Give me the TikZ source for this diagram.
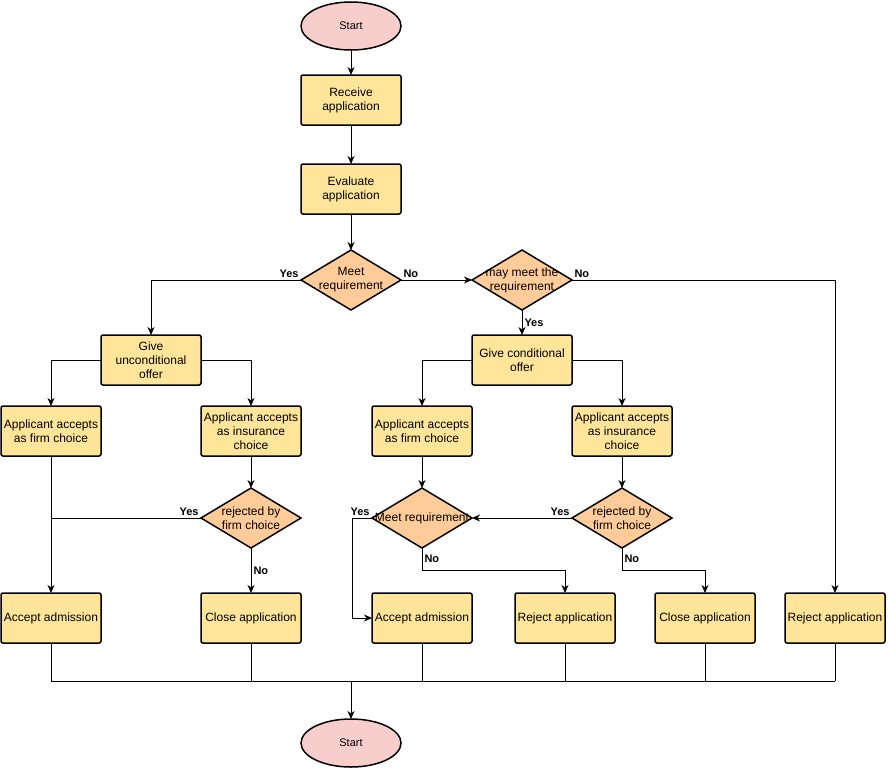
\documentclass[tikz,border=0pt]{standalone}
\usepackage{fontspec}
\setmainfont{Liberation Sans}
\usepackage{xcolor}
\usetikzlibrary{arrows.meta,positioning,shapes.geometric}
\definecolor{boxfill}{HTML}{FFE599}
\definecolor{decfill}{HTML}{FFCC99}
\definecolor{termfill}{HTML}{F8CECC}

\begin{document}
\begin{tikzpicture}[
  x=1pt, y=-1pt,
  font=\fontsize{12}{14}\selectfont,
  proc/.style={draw, line width=1.5pt, rounded corners=2pt, fill=boxfill,
      align=center, inner sep=0pt, outer sep=0pt,
      minimum width=100pt, minimum height=50pt},
  decision/.style={diamond, draw, line width=1.5pt, fill=decfill,
      align=center, inner xsep=-10pt, inner ysep=0pt, outer sep=0pt,
      shape aspect=1.6667, minimum width=100pt, minimum height=60pt},
  term/.style={ellipse, draw, line width=1.5pt, fill=termfill, inner sep=0pt,
      outer sep=0pt, minimum width=100pt, minimum height=48pt,
      font=\fontsize{11}{13}\selectfont},
  lbl/.style={font=\fontsize{11}{13}\selectfont\bfseries, inner sep=2pt},
  link/.style={line width=1pt},
  arrow/.style={-{Stealth[length=8pt,width=7pt,inset=2.5pt]}, line width=1pt}
]
\useasboundingbox (0,0) rectangle (888,771);
\node[term] (start) at (351,26) {Start};
\node[proc, below=25pt of start] (receive) {Receive\\application};
\node[proc, below=39pt of receive] (evaluate) {Evaluate\\application};
\node[decision, below=36pt of evaluate] (meet) {Meet\\requirement};
\node[decision, right=71pt of meet] (maybe) {may meet the\\requirement};
\node[proc] (uncond) at (151,360) {Give\\unconditional\\offer};
\node[proc, below=25pt of maybe] (cond) {Give conditional\\offer};
\node[proc] (lfirm) at (51,431) {Applicant accepts\\as firm choice};
\node[proc] (linsur) at (251,431) {Applicant accepts\\as insurance\\choice};
\node[proc] (rfirm) at (422,431) {Applicant accepts\\as firm choice};
\node[proc] (rinsur) at (622,431) {Applicant accepts\\as insurance\\choice};
\node[decision, below=32pt of linsur] (lrej) {rejected by\\firm choice};
\node[decision, below=32pt of rfirm] (rmeet) {Meet requirement};
\node[decision, below=32pt of rinsur] (rrej) {rejected by\\firm choice};
\node[proc] (laccept) at (51,618) {Accept admission};
\node[proc, below=45pt of lrej] (lclose) {Close application};
\node[proc, below=45pt of rmeet] (raccept) {Accept admission};
\node[proc] (rreject) at (565,618) {Reject application};
\node[proc] (rclose) at (705,618) {Close application};
\node[proc] (freject) at (835,618) {Reject application};
\node[term] (finish) at (351,743) {Start};
\coordinate (merge) at (351,681);

\draw[arrow] (start) -- (receive);
\draw[arrow] (receive) -- (evaluate);
\draw[arrow] (evaluate) -- (meet);
\draw[arrow] (meet.west) node[lbl, above left] {Yes} -| (uncond.north);
\draw[arrow] (meet.east) node[lbl, above right] {No} -- (maybe.west);
\draw[arrow] (maybe.east) node[lbl, above right] {No} -| (freject.north);
\draw[arrow] (maybe.south) -- node[lbl, right] {Yes} (cond.north);
\draw[arrow] (uncond.west) -| (lfirm.north);
\draw[arrow] (uncond.east) -| (linsur.north);
\draw[arrow] (cond.west) -| (rfirm.north);
\draw[arrow] (cond.east) -| (rinsur.north);
\draw[arrow] (lfirm.south) -- (laccept.north);
\draw[arrow] (linsur.south) -- (lrej.north);
\draw[link] (lrej.west) node[lbl, above left] {Yes} -- (lrej.west -| lfirm.south);
\draw[arrow] (lrej.south) -- node[lbl, right] {No} (lclose.north);
\draw[arrow] (rfirm.south) -- (rmeet.north);
\draw[arrow] (rinsur.south) -- (rrej.north);
\draw[arrow] (rmeet.west) node[lbl, above left] {Yes} -- ++(-20,0) |- (raccept.west);
\draw[arrow] (rmeet.south) -- node[lbl, right] {No} ++(0,22) -| (rreject.north);
\draw[arrow] (rrej.west) node[lbl, above left] {Yes} -- (rmeet.east);
\draw[arrow] (rrej.south) -- node[lbl, right] {No} ++(0,22) -| (rclose.north);
\foreach \n in {laccept,lclose,raccept,rreject,rclose,freject}
  \draw[link] (\n.south) -- (\n.south |- merge);
\draw[link] (laccept.south |- merge) -- (freject.south |- merge);
\draw[arrow] (merge) -- (finish.north);
\end{tikzpicture}
\end{document}
